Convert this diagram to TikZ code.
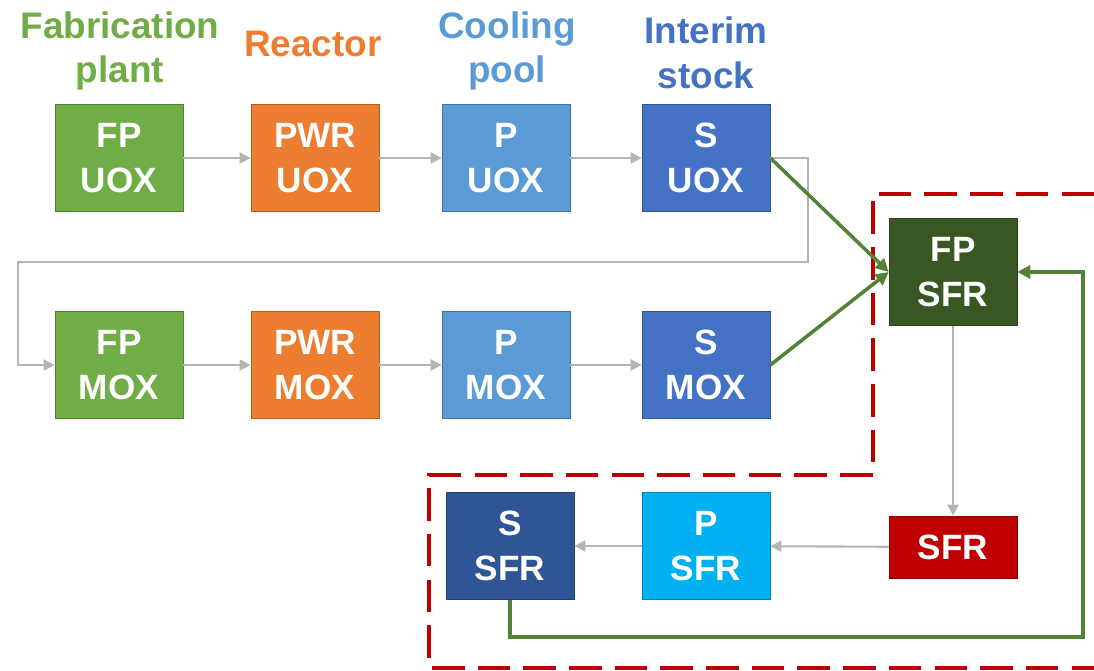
\documentclass[tikz,border=0pt]{standalone}
\usepackage{fontspec}
\setmainfont{Liberation Sans}
\definecolor{FabGreen}{RGB}{112,173,71}
\definecolor{ReacOrange}{RGB}{237,125,49}
\definecolor{PoolBlue}{RGB}{91,155,213}
\definecolor{StockBlue}{RGB}{68,114,196}
\definecolor{SfrFabGreen}{RGB}{56,87,35}
\definecolor{SfrRed}{RGB}{192,0,0}
\definecolor{SfrPool}{RGB}{0,176,240}
\definecolor{SfrStock}{RGB}{47,85,151}
\definecolor{LinkGreen}{RGB}{84,130,53}
\definecolor{LinkGray}{RGB}{180,180,180}
\usetikzlibrary{arrows.meta,positioning}

\begin{document}
\begin{tikzpicture}[
        x=0.02cm, y=-0.02cm,
        every node/.style={font=\fontsize{20}{26}\selectfont\bfseries},
        box/.style={draw=#1!75!black, thin, fill=#1, text=white, align=center,
                    inner sep=0pt, minimum width=2.56cm, minimum height=2.14cm},
        head/.style={text=#1, align=center, inner sep=0pt,
                     font=\fontsize{21}{25.5}\selectfont\bfseries},
        flow/.style={-{Triangle[length=2.2mm,width=2.2mm]}, line width=1.2pt, LinkGray},
        feed/.style={-{Triangle[length=2.6mm,width=2.6mm]}, line width=2pt, LinkGreen},
        zone/.style={SfrRed, line width=2.3pt, dash pattern=on 18.5pt off 7.5pt}
      ]
        \useasboundingbox (0,0) rectangle (1094,671);
        % column headings
        \node[head=FabGreen]  (hfab)   at (120,51) {Fabrication\\plant};
        \node[head=ReacOrange](hreac)  at (313,44) {Reactor};
        \node[head=PoolBlue]  (hpool)  at (507,51) {Cooling\\pool};
        \node[head=StockBlue] (hstock) at (706,53) {Interim\\stock};
        % UOX line
        \node[box=FabGreen]   (fpuox)  at (119,158) {FP\\UOX};
        \node[box=ReacOrange] (pwruox) at (315,158) {PWR\\UOX};
        \node[box=PoolBlue]   (puox)   at (506,158) {P\\UOX};
        \node[box=StockBlue]  (suox)   at (706,158) {S\\UOX};
        % MOX line
        \node[box=FabGreen]   (fpmox)  at (119,365) {FP\\MOX};
        \node[box=ReacOrange] (pwrmox) at (315,365) {PWR\\MOX};
        \node[box=PoolBlue]   (pmox)   at (506,365) {P\\MOX};
        \node[box=StockBlue]  (smox)   at (706,365) {S\\MOX};
        % SFR loop
        \node[box=SfrFabGreen] (fpsfr) at (953,272) {FP\\SFR};
        \node[box=SfrRed, minimum height=1.24cm] (sfr) at (953,547) {SFR};
        \node[box=SfrPool]    (psfr)   at (706,546) {P\\SFR};
        \node[box=SfrStock]   (ssfr)   at (510,546) {S\\SFR};
        \coordinate (turnA) at (808,262);
        \coordinate (turnB) at (18,262);
        \coordinate (loopc) at (1083,637);
        % boundary of the SFR part
        \draw[zone] (1094,194) -- (873,194) -- (873,475) -- (429,475)
                    -- (429,668) -- (1094,668);
        \draw[flow] (fpuox) -- (pwruox);
        \draw[flow] (pwruox) -- (puox);
        \draw[flow] (puox) -- (suox);
        \draw[flow] (suox.east) -| (turnA) -- (turnB) |- (fpmox.west);
        \draw[flow] (fpmox) -- (pwrmox);
        \draw[flow] (pwrmox) -- (pmox);
        \draw[flow] (pmox) -- (smox);
        \draw[flow] (fpsfr) -- (sfr);
        \draw[flow] (sfr) -- (psfr);
        \draw[flow] (psfr) -- (ssfr);
        \draw[feed] (suox.east) -- (fpsfr.west);
        \draw[feed] (smox.east) -- (fpsfr.west);
        \draw[feed] (ssfr.south) |- (loopc) |- (fpsfr.east);
      \end{tikzpicture}
\end{document}
